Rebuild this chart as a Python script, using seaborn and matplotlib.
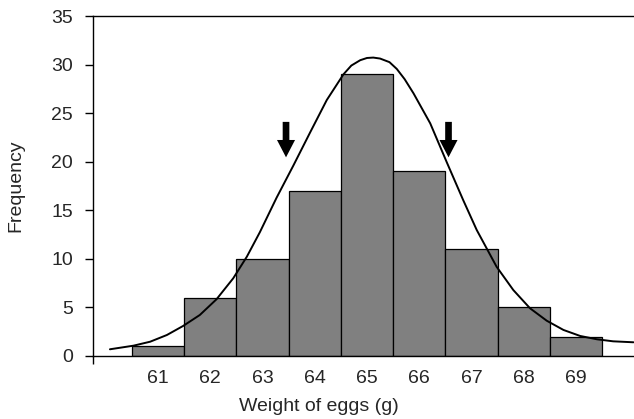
import numpy as np
import matplotlib
matplotlib.use('Agg')
import matplotlib.pyplot as plt
import seaborn as sns

# ---------------------------------------------------------------------------
# Data
# ---------------------------------------------------------------------------
weights = [61, 62, 63, 64, 65, 66, 67, 68, 69]
frequency = [1, 6, 10, 17, 29, 19, 11, 5, 2]

# fitted curve, points
curve_x = [60.08, 60.53, 60.85, 61.17, 61.48, 61.80, 62.12, 62.44, 62.70,
           62.95, 63.27, 63.59, 63.91, 64.23, 64.55, 64.70, 64.87, 65.00,
           65.12, 65.25, 65.43, 65.57, 65.72, 65.89, 66.21, 66.53, 66.84,
           67.10, 67.48, 67.80, 68.12, 68.44, 68.76, 69.08, 69.40, 69.71,
           70.10]
curve_y = [0.69, 1.06, 1.47, 2.16, 3.09, 4.22, 5.84, 8.00, 10.22,
           12.75, 16.30, 19.60, 23.00, 26.35, 29.00, 29.90, 30.45, 30.68,
           30.72, 30.62, 30.25, 29.55, 28.50, 27.04, 23.95, 19.90, 16.06,
           12.97, 9.19, 6.79, 4.91, 3.63, 2.68, 2.06, 1.72, 1.51,
           1.41]

arrow_x = [63.45, 66.56]
arrow_top, arrow_tip = 24.1, 20.45


def main():
    sns.set_style('white')
    plt.rcParams['font.family'] = ['Liberation Sans', 'DejaVu Sans']

    fig = plt.figure(figsize=(6.34, 4.19), dpi=100)
    ax = fig.add_axes([0.1467, 0.1504, 0.8533, 0.8114])

    sns.histplot(x=weights, weights=frequency, discrete=True,
                 color='#808080', edgecolor='black', linewidth=0.9,
                 alpha=1, ax=ax)
    sns.lineplot(x=curve_x, y=curve_y, color='black', linewidth=1.4, ax=ax)
    ax.lines[-1].set_solid_joinstyle('round')

    for xa in arrow_x:
        ax.annotate('', xy=(xa, arrow_tip), xytext=(xa, arrow_top),
                    arrowprops=dict(facecolor='black', edgecolor='none',
                                    width=4.8, headwidth=13,
                                    headlength=12.5, shrink=0))

    ax.set_xlim(59.756, 70.11)
    ax.set_ylim(0, 35)
    ax.set_yticks(range(0, 36, 5))
    ax.set_xticks(weights)
    ax.set_xticks([59.756], minor=True)

    for side in ('left', 'top', 'bottom'):
        ax.spines[side].set_color('black')
        ax.spines[side].set_linewidth(1.0)
    ax.spines['right'].set_visible(False)

    ax.tick_params(axis='y', which='major', direction='out', length=5.8,
                   width=1, color='black', labelsize=14, left=True, pad=8.5)
    ax.tick_params(axis='x', which='major', length=0, labelsize=14, pad=10)
    ax.tick_params(axis='x', which='minor', direction='out', length=5.8,
                   width=1, color='black', bottom=True)

    ax.set_xlabel('Weight of eggs (g)', fontsize=14)
    ax.set_ylabel('Frequency', fontsize=14)
    ax.xaxis.set_label_coords(0.4168, -0.125)
    ax.yaxis.set_label_coords(-0.126, 0.5)

    plt.savefig('out.png', dpi=100)
    plt.close()


if __name__ == '__main__':
    main()
